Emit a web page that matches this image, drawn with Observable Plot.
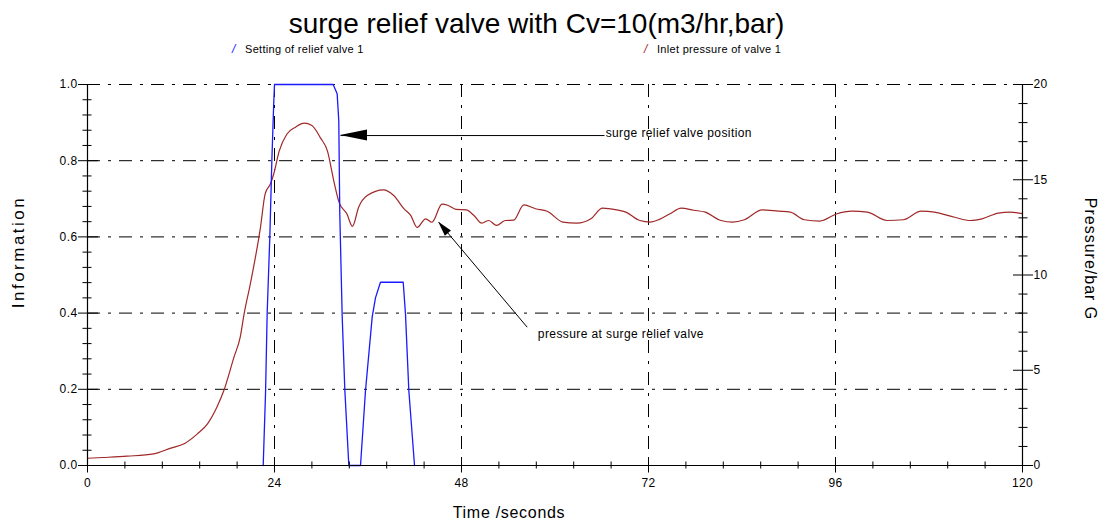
<!DOCTYPE html>
<html>
<head>
<meta charset="utf-8">
<script src="https://cdn.jsdelivr.net/npm/d3@7"></script>
<script src="https://cdn.jsdelivr.net/npm/@observablehq/plot@0.6"></script>
<style>
  body { margin: 0; background: #fff; font-family: "Liberation Sans", Arial, sans-serif; }
  #wrap { position: relative; width: 1102px; height: 522px; overflow: hidden; background: #fff; }
  #title { position: absolute; left: 0; width: 1073px; top: 10px; text-align: center; font-size: 28px; line-height: 28px; color: #000; }
  .leg { position: absolute; top: 43px; font-size: 11px; line-height: 13px; color: #000; white-space: nowrap; letter-spacing: 0.3px; }
  .sl { position: absolute; top: 42px; font-size: 12px; line-height: 14px; font-style: italic; }
  #chart { position: absolute; left: 0; top: 70px; }
  #chart text { letter-spacing: 0.4px; }
</style>
</head>
<body>
<div id="wrap">
  <div id="title">surge relief valve with Cv=10(m3/hr,bar)</div>
  <div id="legend"></div>
  <div id="chart"></div>
</div>
<script>
// ---------- data ----------
const chartTitle = "surge relief valve with Cv=10(m3/hr,bar)";
const seriesNames = ["Setting of relief valve 1", "Inlet pressure of valve 1"];
const seriesColors = ["#1a1aff", "#a02828"];

// Setting of relief valve 1 (Information, 0..1)
const valveTime = [22.55, 22.85, 23.06, 23.4, 23.66, 23.9, 24.0, 31.53, 32.04, 32.25, 32.38, 32.69, 33.03, 33.54,
  35.04, 35.68, 36.54, 36.96, 37.6, 40.52, 40.81, 41.24, 41.97];
const valveSetting = [0, 0.19, 0.40, 0.60, 0.80, 0.95, 1.0, 1.0, 0.976, 0.905, 0.66, 0.39, 0.197, 0,
  0, 0.197, 0.39, 0.44, 0.481, 0.481, 0.398, 0.197, 0];

// Inlet pressure of valve 1 (bar G, right axis 0..20)
const pressureTime = [0, 2, 5.1, 8.5, 10.7, 12.4, 14.1, 15.4, 16.6, 17.5, 18.8, 19.6, 20.1, 20.9, 22.2, 22.8, 23.5, 23.9,
  24.6, 25.6, 26.7, 27.8, 28.8, 29.9, 30.8, 31.6, 32.3, 33.3, 34.0, 34.8, 35.9, 38.0, 39.3, 40.6, 41.5, 42.3, 43.4,
  44.2, 45.5, 46.3, 47.3, 48.6, 49.6, 50.6, 51.5, 52.5, 53.6, 54.7, 56.0, 57.5, 59.0, 61.0, 62.8, 64.6, 66.1, 67.9,
  69.1, 70.9, 72.2, 73.4, 74.7, 76.2, 77.8, 79.3, 81.3, 82.8, 84.3, 86.6, 88.7, 90.2, 92.0, 94.0, 96.1, 98.1, 100.1,
  102.6, 104.7, 107.0, 108.7, 111.3, 113.3, 114.8, 116.9, 118.4, 120];
const pressureBar = [0.38, 0.42, 0.49, 0.61, 0.91, 1.14, 1.66, 2.19, 3.06, 3.94, 5.69, 6.74, 7.96, 9.54, 12.5, 14.26, 14.8, 15.3,
  16.5, 17.4, 17.76, 17.97, 17.85, 17.2, 16.5, 14.96, 13.8, 13.2, 12.55, 13.56, 14.17, 14.47, 14.17, 13.48, 13.12, 12.5, 12.95,
  12.77, 13.72, 13.65, 13.44, 13.42, 13.12, 12.72, 12.86, 12.6, 12.86, 12.88, 13.68, 13.48, 13.35, 12.78, 12.72, 12.95, 13.51, 13.42,
  13.3, 12.86, 12.78, 12.92, 13.2, 13.51, 13.4, 13.3, 12.86, 12.78, 12.9, 13.42, 13.35, 13.3, 12.9, 12.83, 13.2, 13.35, 13.3,
  12.86, 12.9, 13.35, 13.3, 13.03, 12.86, 12.95, 13.25, 13.3, 13.22];

// axes
const xTickLabels = [0, 24, 48, 72, 96, 120];
const xMinorTicks = [4.8, 9.6, 14.4, 19.2, 28.8, 33.6, 38.4, 43.2, 52.8, 57.6, 62.4, 67.2, 76.8, 81.6, 86.4, 91.2, 100.8, 105.6, 110.4, 115.2];
const yLeftTickLabels = [0, 0.2, 0.4, 0.6, 0.8, 1.0];
const yLeftMinorTicks = [0.04, 0.08, 0.12, 0.16, 0.24, 0.28, 0.32, 0.36, 0.44, 0.48, 0.52, 0.56, 0.64, 0.68, 0.72, 0.76, 0.84, 0.88, 0.92, 0.96];
const yRightTickLabels = [0, 5, 10, 15, 20];
const yRightMinorTicks = [1, 2, 3, 4, 6, 7, 8, 9, 11, 12, 13, 14, 16, 17, 18, 19];
const pressureMax = 20;
const xGrid = [24, 48, 72, 96];
const yGrid = [0.2, 0.4, 0.6, 0.8, 1.0];
const xTitle = "Time /seconds";
const yLeftTitle = "Information";
const yRightTitle = "Pressure/bar G";

// annotations (data coordinates: seconds, information)
const noteText = ["surge relief valve position", "pressure at surge relief valve"];
const noteT = [66.5, 57.8];
const noteV = [0.871, 0.346];
const arrowFromT = [66.35, 56.43];
const arrowFromV = [0.866, 0.363];
const arrowToT = [32.47, 45.08];
const arrowToV = [0.866, 0.6386];

// ---------- build ----------
const valveRows = valveTime.map((t, i) => ({t, v: valveSetting[i]}));
const pressureRows = pressureTime.map((t, i) => ({t, v: pressureBar[i] / pressureMax}));
const notes = noteText.map((text, i) => ({text, t: noteT[i], v: noteV[i]}));
const arrows = arrowFromT.map((x1, i) => ({x1, y1: arrowFromV[i], x2: arrowToT[i], y2: arrowToV[i]}));
const headLen = [27, 15], headHalf = [5.5, 4];

// legend
const legend = document.getElementById("legend");
const legendX = [245, 657];
seriesNames.forEach((name, i) => {
  const s = document.createElement("div");
  s.className = "sl"; s.style.left = (legendX[i] - 13) + "px"; s.style.color = seriesColors[i]; s.textContent = "/";
  legend.appendChild(s);
  const d = document.createElement("div");
  d.className = "leg"; d.style.left = legendX[i] + "px"; d.textContent = name;
  legend.appendChild(d);
});
document.getElementById("title").textContent = chartTitle;

const dashDot = "13,8,3,8";

const arrowHeads = (index, scales) => {
  const g = d3.create("svg:g").attr("aria-label", "arrowheads");
  arrows.forEach((a, i) => {
    const X1 = scales.x(a.x1), Y1 = scales.y(a.y1), X2 = scales.x(a.x2), Y2 = scales.y(a.y2);
    const ang = Math.atan2(Y2 - Y1, X2 - X1), c = Math.cos(ang), s = Math.sin(ang);
    const L = headLen[i], W = headHalf[i];
    const bx = X2 - L * c, by = Y2 - L * s;
    g.append("path")
      .attr("d", `M${X2},${Y2}L${bx - W * s},${by + W * c}L${bx + W * s},${by - W * c}Z`)
      .attr("fill", "#000");
  });
  return g.node();
};

const plot = Plot.plot({
  width: 1102,
  height: 452,
  marginLeft: 87,
  marginRight: 80,
  marginTop: 14,
  marginBottom: 57,
  x: {domain: [0, 120]},
  y: {domain: [0, 1]},
  style: {fontFamily: "'Liberation Sans', Arial, sans-serif", fontSize: "12px", color: "#000", background: "#fff", overflow: "visible"},
  marks: [
    Plot.ruleY(yGrid, {stroke: "#000", strokeDasharray: dashDot, strokeWidth: 1}),
    Plot.ruleX(xGrid, {stroke: "#000", strokeDasharray: dashDot, strokeWidth: 1}),
    Plot.line(pressureRows, {x: "t", y: "v", stroke: seriesColors[1], strokeWidth: 1.2, curve: "monotone-x"}),
    Plot.line(valveRows, {x: "t", y: "v", stroke: seriesColors[0], strokeWidth: 1.3}),
    // axis lines
    Plot.ruleX([0, 120], {stroke: "#000", strokeWidth: 1.2}),
    Plot.ruleY([0], {stroke: "#000", strokeWidth: 1.2}),
    // left axis
    Plot.axisY(yLeftMinorTicks, {anchor: "left", tickSize: 9, dx: 4.5, fill: "none", stroke: "#000", label: null}),
    Plot.axisY(yLeftTickLabels, {anchor: "left", tickSize: 20, dx: 11, fill: "none", stroke: "#000", label: null}),
    Plot.axisY(yLeftTickLabels, {anchor: "left", tickSize: 0, tickPadding: 10, stroke: "none", fill: "#000", label: null, tickFormat: d => d.toFixed(1)}),
    // right axis
    Plot.axisY(yRightMinorTicks.map(p => p / pressureMax), {anchor: "right", tickSize: 9, dx: -4.5, fill: "none", stroke: "#000", label: null}),
    Plot.axisY(yRightTickLabels.map(p => p / pressureMax), {anchor: "right", tickSize: 20, dx: -10, fill: "none", stroke: "#000", label: null}),
    Plot.axisY(yRightTickLabels.map(p => p / pressureMax), {anchor: "right", tickSize: 0, tickPadding: 11, stroke: "none", fill: "#000", label: null, tickFormat: d => String(Math.round(d * pressureMax))}),
    // bottom axis
    Plot.axisX(xMinorTicks, {anchor: "bottom", tickSize: 7, dy: -3.5, fill: "none", stroke: "#000", label: null}),
    Plot.axisX(xTickLabels, {anchor: "bottom", tickSize: 15, dy: -7.5, fill: "none", stroke: "#000", label: null}),
    Plot.axisX(xTickLabels, {anchor: "bottom", tickSize: 0, tickPadding: 13, stroke: "none", fill: "#000", label: null, tickFormat: d => String(d)}),
    // axis titles
    Plot.text([yLeftTitle], {frameAnchor: "left", textAnchor: "middle", lineAnchor: "middle", rotate: -90, dx: -69, dy: -23, fontSize: 17, fill: "#000"}),
    Plot.text([yRightTitle], {frameAnchor: "right", textAnchor: "middle", lineAnchor: "middle", rotate: 90, dx: 68, dy: -16, fontSize: 16, fill: "#000"}),
    Plot.text([xTitle], {frameAnchor: "bottom", textAnchor: "middle", lineAnchor: "middle", dx: -46, dy: 47, fontSize: 16, fill: "#000"}),
    // annotations
    Plot.link(arrows, {x1: "x1", y1: "y1", x2: "x2", y2: "y2", stroke: "#000", strokeWidth: 1}),
    arrowHeads,
    Plot.text(notes, {x: "t", y: "v", text: "text", textAnchor: "start", fontSize: 12, fill: "#000"})
  ]
});
const titleSpacing = {[yLeftTitle]: "2.5px", [yRightTitle]: "1px", [xTitle]: "0.7px"};
d3.select(plot).selectAll("text").each(function() {
  const sp = titleSpacing[this.textContent];
  if (sp) this.style.letterSpacing = sp;
});
document.getElementById("chart").appendChild(plot);
</script>
</body>
</html>
